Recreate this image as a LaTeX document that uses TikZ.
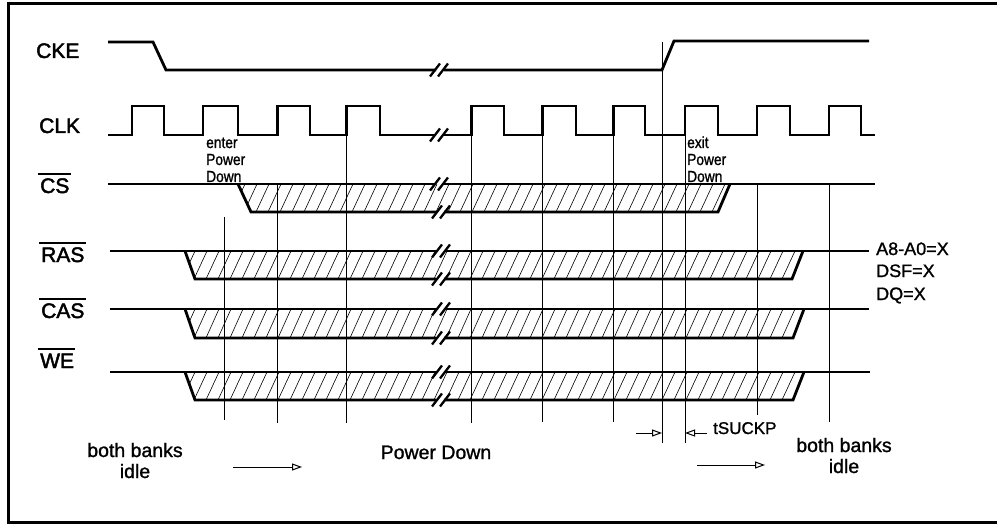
\documentclass[tikz,border=0pt]{standalone}
\usepackage{fontspec}
\setmainfont{Liberation Sans}[FakeBold=1.2]
\newfontfamily\condfont{Liberation Sans}[FakeStretch=0.86,FakeBold=1.2]
\newfontfamily\lblfont{Liberation Sans}[FakeBold=2.2]
\usetikzlibrary{arrows.meta}
\newcommand\brkmark[2]{%
  \draw[line width=2.3pt] (#1-10,#2+6.5) -- (#1+0,#2-6.5);
  \draw[line width=2.3pt] (#1-2,#2+6.5) -- (#1+8,#2-6.5);}
\begin{document}
\begin{tikzpicture}[x=1pt,y=-1pt,
  sig/.style={line width=2.8pt, line join=miter, line cap=butt},
  guide/.style={line width=1pt},
  hatchline/.style={line width=0.6pt},
  lbl/.style={font=\lblfont\fontsize{21}{24}\selectfont, inner sep=0pt, anchor=base west},
  ovl/.style={line width=2pt},
  small/.style={font=\condfont\fontsize{16}{17}\selectfont, inner sep=0pt, anchor=base west},
  bot/.style={font=\fontsize{19.5}{22}\selectfont, inner sep=0pt, anchor=base},
  addr/.style={font=\fontsize{18}{20}\selectfont, inner sep=0pt, anchor=base west},
  opentip/.style={-{Triangle[open,length=10pt,width=7pt]}, line width=1pt}]
\useasboundingbox (0,0) rectangle (997,524);
% frame
\draw[line width=3pt] (997,4) -- (8,4) -- (8,522) -- (997,522);

% hatching
\begin{scope}
  \clip (238,184) -- (251,212) -- (718,212) -- (730,184) -- cycle;
  \foreach \x in {220,232,...,740} \draw[hatchline] (\x,212) -- (\x+13,184);
\end{scope}
\foreach \yh/\yl/\xr in {251/279/792, 309/338/793, 372/400/793}{
  \begin{scope}
    \clip (185,\yh) -- (195,\yl) -- (\xr,\yl) -- (\xr+11,\yh) -- cycle;
    \foreach \x in {170,182,...,820} \draw[hatchline] (\x,\yl) -- (\x+13,\yh);
  \end{scope}
}

% guide lines
\draw[guide] (224,217) -- (224,420);
\draw[guide] (277.5,184) -- (277.5,423);
\draw[guide] (346.5,135) -- (346.5,423);
\draw[guide] (471.5,135) -- (471.5,423);
\draw[guide] (542.5,135) -- (542.5,422);
\draw[guide] (613.5,135) -- (613.5,422);
\draw[guide] (662,42) -- (662,443);
\draw[guide] (685,135) -- (685,443);
\draw[guide] (757,184) -- (757,415);
\draw[guide] (829,184) -- (829,422);

% CKE
\draw[sig] (108,42) -- (153,42) -- (166,70) -- (436,70);
\draw[sig] (444,70) -- (662,70) -- (674,41) -- (869,41);
\brkmark{440}{70}
% CLK
\draw[sig] (108,135) -- (132,135) -- (132,106) -- (164,106) -- (164,135)
  -- (203,135) -- (203,106) -- (238,106) -- (238,135)
  -- (277.5,135) -- (277.5,106) -- (310,106) -- (310,135)
  -- (346.5,135) -- (346.5,106) -- (380,106) -- (380,135) -- (436,135);
\draw[sig] (444,135) -- (471.5,135) -- (471.5,106) -- (504,106) -- (504,135)
  -- (542.5,135) -- (542.5,106) -- (576,106) -- (576,135)
  -- (613.5,135) -- (613.5,106) -- (645,106) -- (645,135)
  -- (685,135) -- (685,106) -- (718,106) -- (718,135)
  -- (757,135) -- (757,106) -- (790,106) -- (790,135)
  -- (829,135) -- (829,106) -- (861,106) -- (861,135) -- (875,135);
\brkmark{440}{135}
% CS
\draw[sig] (108,184) -- (436,184);
\draw[sig] (444,184) -- (875,184);
\draw[sig] (238,184) -- (251,212) -- (436,212);
\draw[sig] (444,212) -- (718,212) -- (730,184);
\brkmark{440}{184}
\brkmark{442}{212}
% RAS CAS WE
\foreach \yh/\yl/\xr/\xe in {251/279/792/869, 309/338/793/869, 372/400/793/870}{
  \draw[sig] (110,\yh) -- (436,\yh);
  \draw[sig] (444,\yh) -- (\xe,\yh);
  \draw[sig] (185,\yh) -- (195,\yl) -- (436,\yl);
  \draw[sig] (444,\yl) -- (\xr,\yl) -- (\xr+11,\yh);
  \brkmark{442}{\yh}
  \brkmark{442}{\yl}
}

% signal labels
\node[lbl] (cke) at (36,58) {CKE};
\node[lbl] (clk) at (39,133) {CLK};
\node[lbl] (cs) at (40,193) {CS};
\node[lbl] (ras) at (41,262) {RAS};
\node[lbl] (cas) at (41,318) {CAS};
\node[lbl] (we) at (40,368) {WE};
\foreach \n in {cs,ras,cas,we}
  \draw[ovl] ([shift={(-2pt,4.5pt)}]\n.north west) -- ([shift={(1pt,4.5pt)}]\n.north east);

% enter / exit power down
\node[small] (en1) at (206,148) {enter};
\node[small] (en2) at (206,165) {Power};
\node[small] (en3) at (206,182) {Down};
\node[small] (ex1) at (687,148) {exit};
\node[small] (ex2) at (687,165) {Power};
\node[small] (ex3) at (687,182) {Down};

% address note
\node[addr] (a8) at (876,255) {A8-A0=X};
\node[addr] (dsf) at (876,277) {DSF=X};
\node[addr] (dq) at (876,300) {DQ=X};

% bottom texts
\node[bot] (bb1) at (135,457) {both banks};
\node[bot] (id1) at (135,478) {idle};
\node[bot] (pd) at (436,459) {Power Down};
\node[bot] (bb2) at (844,452) {both banks};
\node[bot] (id2) at (844,473) {idle};
\node[font=\fontsize{17}{20}\selectfont, inner sep=0pt, anchor=base west] (tsu) at (713,434) {tSUCKP};

% arrows
\coordinate (a1s) at (233,467); \coordinate (a1e) at (302,467);
\coordinate (a2s) at (697,465); \coordinate (a2e) at (765,465);
\coordinate (t1s) at (636,433); \coordinate (t1e) at (662,433);
\coordinate (t2s) at (707,433); \coordinate (t2e) at (685,433);
\draw[opentip] (a1s) -- (a1e);
\draw[opentip] (a2s) -- (a2e);
\draw[opentip] (t1s) -- (t1e);
\draw[opentip] (t2s) -- (t2e);
\end{tikzpicture}
\end{document}
